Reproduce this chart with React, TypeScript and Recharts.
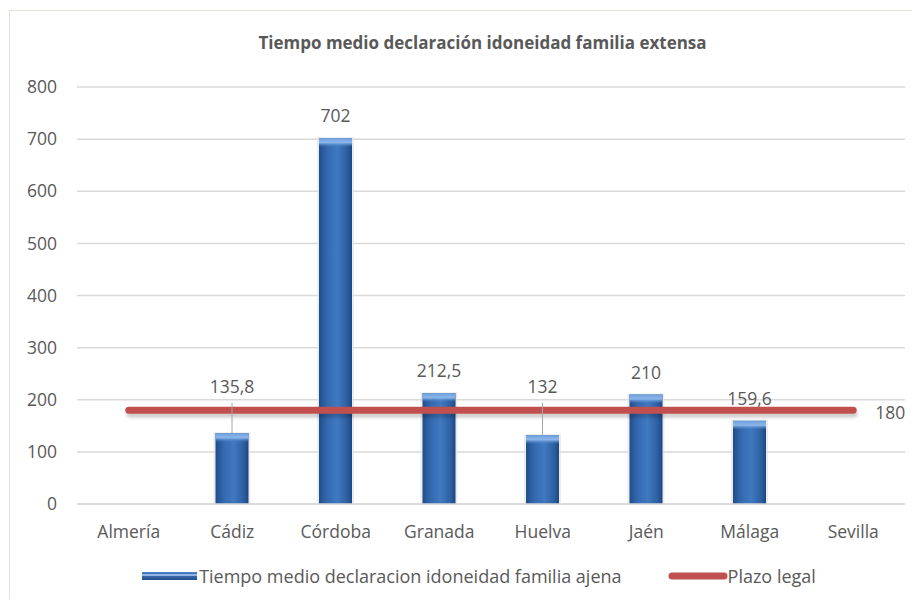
import React from "react"
import {
  ComposedChart,
  Bar,
  Line,
  XAxis,
  YAxis,
  CartesianGrid,
  Legend,
  LabelList,
} from "recharts"

const provincias = ["Almería", "Cádiz", "Córdoba", "Granada", "Huelva", "Jaén", "Málaga", "Sevilla"]
const tiempoMedio: (number | null)[] = [null, 135.8, 702, 212.5, 132, 210, 159.6, null]
const plazoLegal = [180, 180, 180, 180, 180, 180, 180, 180]
const yTicks = [0, 100, 200, 300, 400, 500, 600, 700, 800]

const BAR_NAME = "Tiempo medio declaracion idoneidad familia ajena"
const LINE_NAME = "Plazo legal"

const FONT = "'Open Sans', sans-serif"
const GREY = "#595959"
const FS = 17.5

const chartData = provincias.map((p, i) => ({
  name: p,
  tiempo: tiempoMedio[i],
  plazo: plazoLegal[i],
}))

const fmt = (v: number) => String(v).replace(".", ",")

const BarShape = (props: any) => {
  const { x, y, width, height } = props
  if (!height || height <= 0) return null
  return (
    <g>
      <rect x={x - 2} y={y - 1} width={width + 4} height={height + 1} fill="#e4e4e4" opacity={0.7} />
      <rect x={x} y={y} width={width} height={height} fill="url(#barGrad)" />
      <rect x={x} y={y} width={width} height={Math.min(9, height)} fill="url(#capGrad)" />
    </g>
  )
}

// short bars get their label moved above the red line, with a leader line (like Excel did)
const BarLabel = (props: any) => {
  const vb = props.viewBox || props
  const { x, y, width, height } = vb
  const value = props.value
  if (value == null || !height) return null
  const cx = x + width / 2
  let ty = y - 23
  let leader = false
  if (value < 150) {
    const zeroY = y + height
    ty = zeroY - (227 * height) / value
    leader = true
  }
  return (
    <g>
      {leader && <line x1={cx} x2={cx} y1={ty + 17} y2={y} stroke="#a6a6a6" strokeWidth={1} />}
      <text x={cx} y={ty} textAnchor="middle" dominantBaseline="central" fill={GREY} fontSize={FS} fontFamily={FONT}>
        {fmt(value)}
      </text>
    </g>
  )
}

const LineLabel = (props: any) => {
  const vb = props.viewBox || props
  const { x, y } = vb
  const { value, index } = props
  if (index !== provincias.length - 1) return null
  return (
    <text x={x + 22} y={y + 2} dominantBaseline="central" fill={GREY} fontSize={FS} fontFamily={FONT}>
      {value}
    </text>
  )
}

const LegendContent = () => (
  <div
    style={{
      display: "flex",
      justifyContent: "center",
      alignItems: "center",
      fontFamily: FONT,
      fontSize: 18,
      color: GREY,
      paddingLeft: 38,
    }}
  >
    <svg width={55} height={8} style={{ marginRight: 2 }}>
      <rect x={0} y={0} width={55} height={8} fill="url(#legendGrad)" />
      <rect x={0} y={2} width={55} height={2} fill="#8fb4e3" />
    </svg>
    <span>{BAR_NAME}</span>
    <svg width={60} height={8} style={{ marginLeft: 46 }}>
      <line x1={4} x2={56} y1={4} y2={4} stroke="#c0504d" strokeWidth={7} strokeLinecap="round" />
    </svg>
    <span>{LINE_NAME}</span>
  </div>
)

export default function App() {
  return (
    <div style={{ position: "relative", margin: -8, width: 920, height: 607, background: "#fff" }}>
      <div
        style={{
          position: "absolute",
          left: 9,
          top: 10,
          width: 915,
          height: 600,
          border: "1px solid #e2e2d6",
        }}
      />
      <div
        style={{
          position: "absolute",
          top: 31,
          left: 0,
          width: 965,
          textAlign: "center",
          fontFamily: FONT,
          fontWeight: 700,
          fontSize: 17,
          color: GREY,
        }}
      >
        Tiempo medio declaración idoneidad familia extensa
      </div>
      <ComposedChart
        width={920}
        height={607}
        data={chartData}
        margin={{ top: 87, right: 15, bottom: 39, left: 0 }}
        style={{ position: "absolute", left: 0, top: 0 }}
      >
        <defs>
          <linearGradient id="barGrad" x1="0" y1="0" x2="1" y2="0">
            <stop offset="0%" stopColor="#1f4d8c" />
            <stop offset="25%" stopColor="#3469b0" />
            <stop offset="55%" stopColor="#4079c0" />
            <stop offset="85%" stopColor="#2d5fa3" />
            <stop offset="100%" stopColor="#1c4783" />
          </linearGradient>
          <linearGradient id="capGrad" x1="0" y1="0" x2="0" y2="1">
            <stop offset="0%" stopColor="#6fa0dc" />
            <stop offset="50%" stopColor="#8bb6ea" />
            <stop offset="100%" stopColor="#4a80c6" stopOpacity={0} />
          </linearGradient>
          <linearGradient id="legendGrad" x1="0" y1="0" x2="0" y2="1">
            <stop offset="0%" stopColor="#4c82c8" />
            <stop offset="100%" stopColor="#234f8c" />
          </linearGradient>
          <filter id="lineShadow" filterUnits="userSpaceOnUse" x={0} y={0} width={920} height={607}>
            <feDropShadow dx={1} dy={4} stdDeviation={1.5} floodColor="#000" floodOpacity={0.18} />
          </filter>
        </defs>
        <CartesianGrid vertical={false} stroke="#d9d9d9" strokeWidth={1.5} />
        <XAxis
          dataKey="name"
          height={40}
          axisLine={{ stroke: "#d9d9d9", strokeWidth: 1.5 }}
          tickLine={false}
          tickSize={0}
          tickMargin={22}
          tick={{ fill: GREY, fontSize: FS, fontFamily: FONT }}
        />
        <YAxis
          width={77}
          domain={[0, 800]}
          ticks={yTicks}
          axisLine={false}
          tickLine={false}
          tickSize={0}
          tickMargin={20}
          tick={{ fill: GREY, fontSize: FS, fontFamily: FONT }}
        />
        <Bar dataKey="tiempo" name={BAR_NAME} barSize={33} shape={<BarShape />} isAnimationActive={false}>
          <LabelList dataKey="tiempo" content={<BarLabel />} />
        </Bar>
        <Line
          dataKey="plazo"
          name={LINE_NAME}
          stroke="#c0504d"
          strokeWidth={7}
          strokeLinecap="round"
          dot={false}
          activeDot={false}
          filter="url(#lineShadow)"
          isAnimationActive={false}
        >
          <LabelList dataKey="plazo" content={<LineLabel />} />
        </Line>
        <Legend
          layout="vertical"
          align="center"
          verticalAlign="bottom"
          content={<LegendContent />}
          wrapperStyle={{ position: "absolute", left: 0, top: 564, width: 920, height: 24 }}
        />
      </ComposedChart>
    </div>
  )
}
